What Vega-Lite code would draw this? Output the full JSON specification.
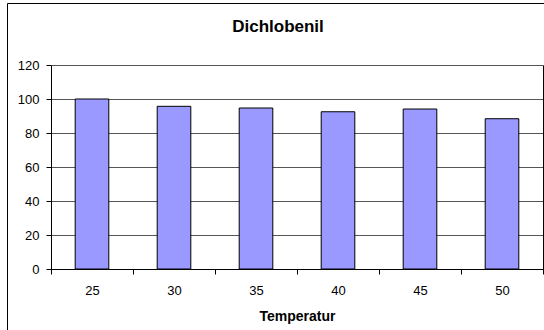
{
  "$schema": "https://vega.github.io/schema/vega-lite/v6.json",
  "width": 542,
  "height": 330,
  "autosize": "none",
  "padding": {"left": 7, "top": 3, "right": -5, "bottom": -3},
  "background": "white",
  "config": {
    "font": "Liberation Sans",
    "view": {"stroke": "#000", "strokeWidth": 1, "fill": "white"}
  },
  "title": {
    "text": "Dichlobenil",
    "font": "Liberation Sans",
    "fontSize": 17,
    "fontWeight": "bold",
    "color": "#000",
    "anchor": "middle",
    "frame": "group",
    "baseline": "alphabetic",
    "offset": -46
  },
  "data": {
    "values": [
      {"Temperatur": 25, "Wert": 100},
      {"Temperatur": 30, "Wert": 95.7},
      {"Temperatur": 35, "Wert": 94.7},
      {"Temperatur": 40, "Wert": 92.5},
      {"Temperatur": 45, "Wert": 94.1},
      {"Temperatur": 50, "Wert": 88.4}
    ]
  },
  "encoding": {
    "x": {
      "field": "Temperatur",
      "type": "ordinal",
      "scale": {"range": [44, 536], "paddingInner": 0, "paddingOuter": 0},
      "axis": {
        "orient": "bottom",
        "offset": -64,
        "labelAngle": 0,
        "domain": true,
        "domainColor": "#000",
        "domainWidth": 1,
        "ticks": true,
        "tickBand": "extent",
        "tickSize": 5,
        "tickWidth": 1,
        "tickColor": "#000",
        "labelPadding": 10,
        "labelFontSize": 13,
        "labelColor": "#000",
        "title": "Temperatur",
        "titleFontSize": 14,
        "titleFontWeight": "bold",
        "titleColor": "#000",
        "titleBaseline": "alphabetic",
        "titleY": 51,
        "grid": false,
        "zindex": 1
      }
    }
  },
  "layer": [
    {
      "mark": {"type": "bar", "fill": "#9999FF", "strokeWidth": 0, "width": {"band": 0.41}},
      "encoding": {
        "y": {
          "field": "Wert",
          "type": "quantitative",
          "scale": {"domain": [0, 120], "range": [266, 62], "nice": false, "zero": true},
          "axis": {
            "orient": "left",
            "offset": -44,
            "values": [0, 20, 40, 60, 80, 100, 120],
            "grid": true,
            "gridColor": "#555",
            "gridWidth": 1,
            "tickSize": 5,
            "tickColor": "#000",
            "domainColor": "#000",
            "labelPadding": 7,
            "labelFontSize": 13,
            "labelColor": "#000",
            "title": null
          }
        }
      }
    },
    {
      "mark": {"type": "bar", "fillOpacity": 0, "stroke": "#000", "strokeWidth": 1, "width": {"band": 0.41}},
      "encoding": {
        "y": {
          "field": "Wert",
          "type": "quantitative",
          "axis": {
            "orient": "right",
            "offset": -6,
            "domain": true,
            "domainColor": "#000",
            "ticks": false,
            "labels": false,
            "grid": false,
            "title": null,
            "zindex": 1
          }
        }
      }
    }
  ],
  "resolve": {"axis": {"y": "independent"}}
}
